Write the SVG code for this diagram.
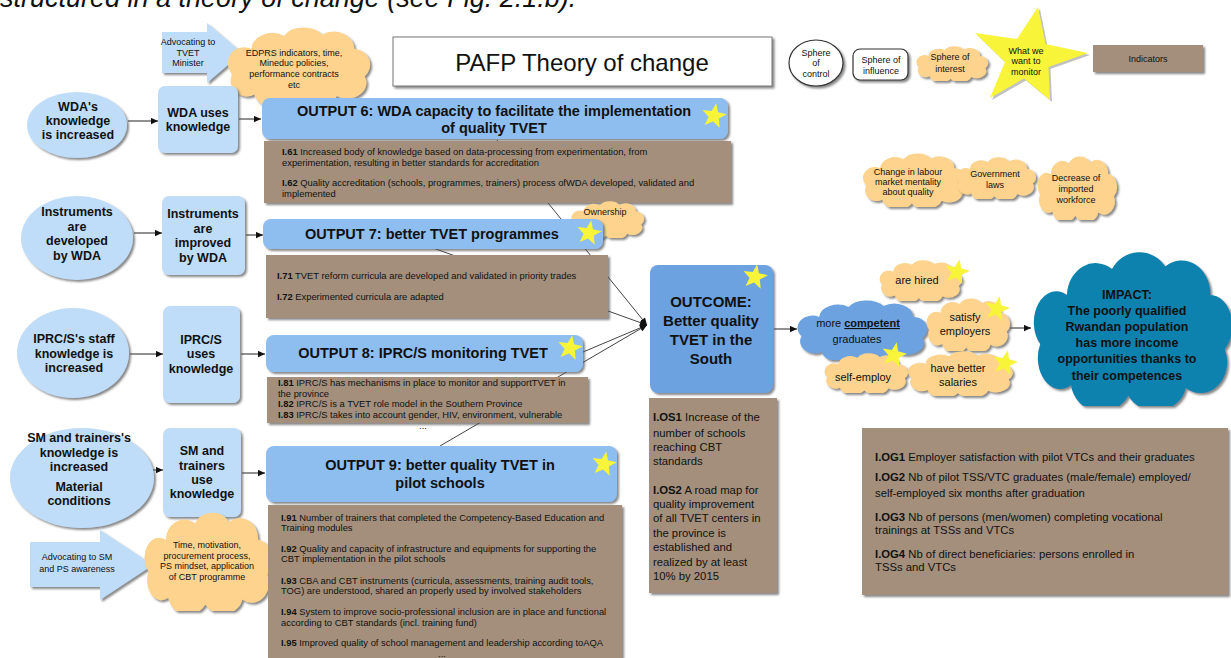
<svg xmlns="http://www.w3.org/2000/svg" xmlns:xlink="http://www.w3.org/1999/xlink" width="1231" height="658" viewBox="0 0 1231 658">
<style>
text{font-family:"Liberation Sans",Arial,sans-serif;fill:#111}
.b{font-weight:bold}
.nt{font-size:12.5px;font-weight:bold;text-anchor:middle}
.ot{font-size:14.5px;font-weight:bold;text-anchor:middle}
.it{font-size:9.4px}
.it2{font-size:11.3px}
.sm{font-size:9px;text-anchor:middle}
.cl{font-size:11px;text-anchor:middle}
.lb{fill:#BFDDF9;filter:url(#sh)}
.out{fill:#8EBEF0;filter:url(#sh)}
.ind{fill:#A38F7B;filter:url(#sh)}
.cld{fill:#FDD38D;filter:url(#sh)}
.ln{stroke:#444;stroke-width:1;fill:none}
.ar{stroke:#222;stroke-width:1;fill:none;marker-end:url(#ah)}
</style>
<defs>
<filter id="sh" x="-10%" y="-10%" width="125%" height="130%">
<feDropShadow dx="2" dy="2" stdDeviation="0.8" flood-color="#555" flood-opacity="0.7"/>
</filter>
<marker id="ah" viewBox="0 0 10 10" refX="10" refY="5" markerWidth="9" markerHeight="7" orient="auto" markerUnits="userSpaceOnUse">
<path d="M0,0.5 L10,5 L0,9.5 z" fill="#111"/>
</marker>
<symbol id="cloud" viewBox="0 0 100 60" preserveAspectRatio="none">
<path d="M18,17 A14,13 0 0,1 40,7 A15,12 0 0,1 66,6 A14,13 0 0,1 88,17 A11,12 0 0,1 95,38 A13,12 0 0,1 76,53 A15,11 0 0,1 48,56 A15,12 0 0,1 20,52 A11,12 0 0,1 5,36 A11,12 0 0,1 18,17 Z"/>
</symbol>
<polygon id="star" points="0,-13 3.23,-4.45 12.36,-4.02 5.23,1.7 7.64,10.52 0,5.5 -7.64,10.52 -5.23,1.7 -12.36,-4.02 -3.23,-4.45"/>
</defs>

<rect width="1231" height="658" fill="#fff"/>
<text x="0" y="7" style="font-size:27px;font-style:italic" fill="#111">structured in a theory of change (see Fig. 2.1.b).</text>

<g id="connectors">
<path class="ln" d="M497,140 L647,325" marker-end="url(#ah)"/>
<path class="ln" d="M433,248 L647,325" marker-end="url(#ah)"/>
<path class="ln" d="M583,352 L647,325" marker-end="url(#ah)"/>
<path class="ln" d="M440,446 L647,325" marker-end="url(#ah)"/>
<path class="ar" d="M128,121 L158,121"/>
<path class="ar" d="M239,119 L261,119"/>
<path class="ar" d="M134,233 L162,233"/>
<path class="ar" d="M246,235 L263,235"/>
<path class="ar" d="M130,354 L163,354"/>
<path class="ar" d="M241,354 L265,354"/>
<path class="ar" d="M152,470 L163,470"/>
<path class="ar" d="M242,473 L265,473"/>
<path class="ar" d="M774,329 L797,329"/>
<path class="ar" d="M1010,328 L1031,328"/>
</g>

<g id="title">
<rect x="393" y="37" width="379" height="49" fill="#fff" stroke="#777" stroke-width="1" filter="url(#sh)"/>
<text x="582" y="71" style="font-size:24px;text-anchor:middle">PAFP Theory of change</text>
</g>

<g id="legend-control">
<ellipse cx="816" cy="63" rx="27" ry="23" fill="#fff" stroke="#333" stroke-width="1.2" filter="url(#sh)"/>
<text class="sm" x="816" y="56">Sphere</text><text class="sm" x="816" y="66">of</text><text class="sm" x="816" y="77">control</text>
</g>
<g id="legend-influence">
<rect x="853" y="49" width="55" height="31" rx="7" fill="#fff" stroke="#333" stroke-width="1.2" filter="url(#sh)"/>
<text class="sm" x="881" y="63">Sphere of</text><text class="sm" x="881" y="74">influence</text>
</g>
<g id="legend-interest">
<use href="#cloud" x="915" y="46" width="74" height="35" class="cld"/>
<text class="sm" x="950" y="60">Sphere of</text><text class="sm" x="950" y="72">interest</text>
</g>
<g id="legend-monitor">
<polygon points="1040,9 1047.5,46 1090,55 1050.5,69 1052,102 1026,80.5 992,100 1007,64 977,35 1019,41" fill="#999" opacity="0.6"/>
<polygon points="1038,7 1045.5,44 1088,53 1048.5,67 1050,100 1024,78.5 990,98 1005,62 975,33 1017,39" fill="#F7F43A"/>
<text class="sm" x="1026" y="54">What we</text><text class="sm" x="1026" y="64">want to</text><text class="sm" x="1026" y="75">monitor</text>
</g>
<g id="legend-indicators">
<rect x="1093" y="45" width="110" height="27" class="ind"/>
<text class="sm" x="1148" y="62">Indicators</text>
</g>

<g id="adv-tvet">
<polygon points="162,32 207,32 207,23 242,53 207,83 207,73 162,73" class="lb"/>
<text class="sm" x="188" y="45">Advocating to</text><text class="sm" x="188" y="56">TVET</text><text class="sm" x="188" y="66">Minister</text>
</g>
<g id="cloud-edprs">
<use href="#cloud" x="225" y="27" width="147" height="78" class="cld"/>
<text class="sm" x="294" y="56">EDPRS indicators, time,</text><text class="sm" x="294" y="66">Mineduc policies,</text><text class="sm" x="294" y="77">performance contracts</text><text class="sm" x="294" y="88">etc</text>
</g>

<g id="wda-knowledge">
<ellipse cx="77" cy="125" rx="50" ry="33" class="lb"/>
<text class="nt" x="78" y="111">WDA's</text><text class="nt" x="78" y="125">knowledge</text><text class="nt" x="78" y="139">is increased</text>
</g>
<g id="wda-uses">
<rect x="158" y="86" width="80" height="67" rx="7" class="lb"/>
<text class="nt" x="198" y="117">WDA uses</text><text class="nt" x="198" y="131">knowledge</text>
</g>
<g id="output6">
<rect x="262" y="98" width="466" height="41" rx="8" class="out"/>
<text class="ot" x="494" y="116">OUTPUT 6: WDA capacity to facilitate the implementation</text>
<text class="ot" x="494" y="133">of quality TVET</text>
<use href="#star" transform="translate(714,116) rotate(10)" fill="#F7F43A"/>
</g>
<g id="ind6">
<rect x="264" y="141" width="467" height="62" class="ind"/>
<text class="it" x="282" y="155"><tspan class="b">I.61</tspan> Increased body of knowledge based on data-processing from experimentation, from</text>
<text class="it" x="282" y="166">experimentation, resulting in better standards for accreditation</text>
<text class="it" x="282" y="186"><tspan class="b">I.62</tspan> Quality accreditation (schools, programmes, trainers) process ofWDA developed, validated and</text>
<text class="it" x="282" y="197">implemented</text>
</g>

<g id="ownership">
<use href="#cloud" x="570" y="201" width="75" height="37" class="cld"/>
<text class="sm" x="605" y="215">Ownership</text>
</g>

<g id="instr-developed">
<ellipse cx="77" cy="238" rx="56" ry="42" class="lb"/>
<text class="nt" x="77" y="216">Instruments</text><text class="nt" x="77" y="231">are</text><text class="nt" x="77" y="245">developed</text><text class="nt" x="77" y="260">by WDA</text>
</g>
<g id="instr-improved">
<rect x="162" y="196" width="83" height="79" rx="7" class="lb"/>
<text class="nt" x="203" y="218">Instruments</text><text class="nt" x="203" y="233">are</text><text class="nt" x="203" y="247">improved</text><text class="nt" x="203" y="262">by WDA</text>
</g>
<g id="output7">
<rect x="263" y="219" width="340" height="30" rx="8" class="out"/>
<text class="ot" x="432" y="239">OUTPUT 7: better TVET programmes</text>
<use href="#star" transform="translate(589,233) rotate(10)" fill="#F7F43A"/>
</g>
<g id="ind7">
<rect x="266" y="255" width="342" height="63" class="ind"/>
<text class="it" x="277" y="279"><tspan class="b">I.71</tspan> TVET reform curricula are developed and validated in priority trades</text>
<text class="it" x="277" y="300"><tspan class="b">I.72</tspan> Experimented curricula are adapted</text>
</g>

<g id="iprc-knowledge">
<ellipse cx="73" cy="353" rx="56" ry="45" class="lb"/>
<text class="nt" x="74" y="343">IPRC/S's staff</text><text class="nt" x="74" y="358">knowledge is</text><text class="nt" x="74" y="372">increased</text>
</g>
<g id="iprc-uses">
<rect x="163" y="306" width="77" height="97" rx="7" class="lb"/>
<text class="nt" x="201" y="344">IPRC/S</text><text class="nt" x="201" y="358">uses</text><text class="nt" x="201" y="373">knowledge</text>
</g>
<g id="output8">
<rect x="266" y="335" width="317" height="37" rx="8" class="out"/>
<text class="ot" x="423" y="358">OUTPUT 8: IPRC/S monitoring TVET</text>
<use href="#star" transform="translate(570,348) rotate(10)" fill="#F7F43A"/>
</g>
<g id="ind8">
<rect x="267" y="377" width="321" height="46" class="ind"/>
<text class="it" x="278" y="386"><tspan class="b">I.81</tspan> IPRC/S has mechanisms in place to monitor and supportTVET in</text>
<text class="it" x="278" y="397">the province</text>
<text class="it" x="278" y="407"><tspan class="b">I.82</tspan> IPRC/S is a TVET role model in the Southern Province</text>
<text class="it" x="278" y="418"><tspan class="b">I.83</tspan> IPRC/S takes into account gender, HIV, environment, vulnerable</text>
<text class="it" x="423" y="429" style="text-anchor:middle">...</text>
</g>

<g id="sm-knowledge">
<ellipse cx="82" cy="478" rx="72" ry="50" class="lb"/>
<text class="nt" x="79" y="442">SM and trainers's</text><text class="nt" x="79" y="457">knowledge is</text><text class="nt" x="79" y="471">increased</text><text class="nt" x="79" y="491">Material</text><text class="nt" x="79" y="505">conditions</text>
</g>
<g id="sm-uses">
<rect x="163" y="428" width="78" height="89" rx="7" class="lb"/>
<text class="nt" x="202" y="455">SM and</text><text class="nt" x="202" y="470">trainers</text><text class="nt" x="202" y="484">use</text><text class="nt" x="202" y="498">knowledge</text>
</g>
<g id="adv-sm">
<polygon points="30,542 100,542 100,530 153,565 100,600 100,587 30,587" class="lb"/>
<text class="sm" x="77" y="560">Advocating to SM</text><text class="sm" x="77" y="572">and PS awareness</text>
</g>
<g id="cloud-time">
<use href="#cloud" x="142" y="512" width="132" height="99" class="cld"/>
<text class="sm" x="207" y="548">Time, motivation,</text><text class="sm" x="207" y="558.5">procurement process,</text><text class="sm" x="207" y="569">PS mindset, application</text><text class="sm" x="207" y="580">of CBT programme</text>
</g>
<g id="output9">
<rect x="266" y="446" width="351" height="56" rx="8" class="out"/>
<text class="ot" x="440" y="470">OUTPUT 9: better quality TVET in</text>
<text class="ot" x="440" y="488">pilot schools</text>
<use href="#star" transform="translate(604,464) rotate(10)" fill="#F7F43A"/>
</g>
<g id="ind9">
<rect x="268" y="505" width="354" height="160" class="ind"/>
<text class="it" x="281" y="521"><tspan class="b">I.91</tspan> Number of trainers that completed the Competency-Based Education and</text>
<text class="it" x="281" y="531">Training modules</text>
<text class="it" x="281" y="552"><tspan class="b">I.92</tspan> Quality and capacity of infrastructure and equipments for supporting the</text>
<text class="it" x="281" y="562">CBT implementation in the pilot schools</text>
<text class="it" x="281" y="584"><tspan class="b">I.93</tspan> CBA and CBT instruments (curricula, assessments, training audit tools,</text>
<text class="it" x="281" y="594">TOG) are understood, shared an properly used by involved stakeholders</text>
<text class="it" x="281" y="615"><tspan class="b">I.94</tspan> System to improve socio-professional inclusion are in place and functional</text>
<text class="it" x="281" y="626">according to CBT standards (incl. training fund)</text>
<text class="it" x="281" y="646"><tspan class="b">I.95</tspan> Improved quality of school management and leadership according toAQA</text>
<text class="it" x="442" y="657" style="text-anchor:middle">...</text>
</g>

<g id="outcome">
<rect x="650" y="265" width="123" height="128" rx="8" fill="#6CA2E0" filter="url(#sh)"/>
<text class="ot" x="711" y="307" style="font-size:15px">OUTCOME:</text>
<text class="ot" x="711" y="326" style="font-size:15px">Better quality</text>
<text class="ot" x="711" y="345" style="font-size:15px">TVET in the</text>
<text class="ot" x="711" y="364" style="font-size:15px">South</text>
<use href="#star" transform="translate(755,277) rotate(10)" fill="#F7F43A"/>
</g>
<g id="ind-outcome">
<rect x="649" y="398" width="128" height="195" class="ind"/>
<text class="it2" x="653" y="421"><tspan class="b">I.OS1</tspan> Increase of the</text>
<text class="it2" x="653" y="437">number of schools</text>
<text class="it2" x="653" y="451">reaching CBT</text>
<text class="it2" x="653" y="465">standards</text>
<text class="it2" x="653" y="494"><tspan class="b">I.OS2</tspan> A road map for</text>
<text class="it2" x="653" y="508">quality improvement</text>
<text class="it2" x="653" y="522">of all TVET centers in</text>
<text class="it2" x="653" y="537">the province is</text>
<text class="it2" x="653" y="551">established and</text>
<text class="it2" x="653" y="566">realized by at least</text>
<text class="it2" x="653" y="580">10% by 2015</text>
</g>

<g id="ext-labour">
<use href="#cloud" x="861" y="153" width="106" height="54" class="cld"/>
<text class="sm" x="908" y="175">Change in labour</text><text class="sm" x="908" y="185">market mentality</text><text class="sm" x="908" y="195">about quality</text>
</g>
<g id="ext-laws">
<use href="#cloud" x="955" y="157" width="82" height="42" class="cld"/>
<text class="sm" x="995" y="177">Government</text><text class="sm" x="995" y="188">laws</text>
</g>
<g id="ext-workforce">
<use href="#cloud" x="1036" y="156" width="82" height="64" class="cld"/>
<text class="sm" x="1076" y="181">Decrease of</text><text class="sm" x="1076" y="192">imported</text><text class="sm" x="1076" y="203">workforce</text>
</g>

<g id="graduates">
<use href="#cloud" x="795" y="300" width="134" height="60" fill="#6CA2E0" filter="url(#sh)"/>
<text class="cl" x="858" y="327">more <tspan class="b" text-decoration="underline">competent</tspan> </text>
<text class="cl" x="857" y="343">graduates</text>
</g>
<g id="hired">
<use href="#cloud" x="878" y="260" width="85" height="41" class="cld"/>
<text class="cl" x="917" y="284">are hired</text>
<use href="#star" transform="translate(957,272) rotate(12)" fill="#F7F43A"/>
</g>
<g id="satisfy">
<use href="#cloud" x="925" y="298" width="86" height="53" class="cld"/>
<text class="cl" x="965" y="321">satisfy</text><text class="cl" x="965" y="335">employers</text>
<use href="#star" transform="translate(997,309) rotate(12)" fill="#F7F43A"/>
</g>
<g id="selfemploy">
<use href="#cloud" x="823" y="353" width="86" height="40" class="cld"/>
<text class="cl" x="863" y="381">self-employ</text>
<use href="#star" transform="translate(894,355) rotate(12)" fill="#F7F43A"/>
</g>
<g id="salaries">
<use href="#cloud" x="906" y="351" width="108" height="45" class="cld"/>
<text class="cl" x="958" y="372">have better</text><text class="cl" x="958" y="386">salaries</text>
<use href="#star" transform="translate(1005,363) rotate(12)" fill="#F7F43A"/>
</g>

<g id="impact">
<use href="#cloud" x="1030" y="251" width="205" height="155" fill="#0A82AF" filter="url(#sh)"/>
<text class="nt" x="1127" y="299">IMPACT:</text>
<text class="nt" x="1127" y="315">The poorly qualified</text>
<text class="nt" x="1127" y="331">Rwandan population</text>
<text class="nt" x="1127" y="347">has more income</text>
<text class="nt" x="1127" y="363">opportunities thanks to</text>
<text class="nt" x="1127" y="380">their competences</text>
</g>

<g id="ind-impact">
<rect x="862" y="428" width="366" height="167" class="ind"/>
<text class="it2" x="875" y="461"><tspan class="b">I.OG1</tspan> Employer satisfaction with pilot VTCs and their graduates</text>
<text class="it2" x="875" y="481"><tspan class="b">I.OG2</tspan> Nb of pilot TSS/VTC graduates (male/female) employed/</text>
<text class="it2" x="875" y="497">self-employed six months after graduation</text>
<text class="it2" x="875" y="521"><tspan class="b">I.OG3</tspan> Nb of persons (men/women) completing vocational</text>
<text class="it2" x="875" y="534">trainings at TSSs and VTCs</text>
<text class="it2" x="875" y="558"><tspan class="b">I.OG4</tspan> Nb of direct beneficiaries: persons enrolled in</text>
<text class="it2" x="875" y="571">TSSs and VTCs</text>
</g>
</svg>
